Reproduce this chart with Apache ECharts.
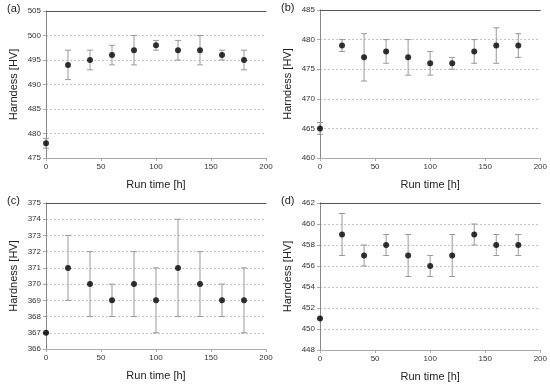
<!DOCTYPE html>
<html><head><meta charset="utf-8">
<script src="https://cdn.jsdelivr.net/npm/echarts@6/dist/echarts.min.js"></script>
<style>html,body{margin:0;padding:0;background:#fff}#c{width:550px;height:388px}</style>
</head><body><div id="c"></div>
<script>
var runTime = [0, 20, 40, 60, 80, 100, 120, 140, 160, 180];
var aValues = [478, 494, 495, 496, 497, 498, 497, 497, 496, 495];
var aLow    = [477, 491, 493, 494, 494, 497, 495, 494, 495, 493];
var aHigh   = [479, 497, 497, 498, 500, 499, 499, 500, 497, 497];
var bValues = [465, 479, 477, 478, 477, 476, 476, 478, 479, 479];
var bLow    = [464, 478, 473, 476, 474, 474, 475, 476, 476, 477];
var bHigh   = [466, 480, 481, 480, 480, 478, 477, 480, 482, 481];
var cValues = [367, 371, 370, 369, 370, 369, 371, 370, 369, 369];
var cLow    = [367, 369, 368, 368, 368, 367, 368, 368, 368, 367];
var cHigh   = [367, 373, 372, 370, 372, 371, 374, 372, 370, 371];
var dValues = [451, 459, 457, 458, 457, 456, 457, 459, 458, 458];
var dLow    = [451, 457, 456, 457, 455, 455, 455, 458, 457, 457];
var dHigh   = [451, 461, 458, 459, 459, 457, 459, 460, 459, 459];
var panelLabels = ['(a)', '(b)', '(c)', '(d)'];
var yTitles = ['Harndess [HV]', 'Harndess [HV]', 'Hardness [HV]', 'Harndess [HV]'];
var xTitle = 'Run time [h]';
var yRanges = [[475, 505, 5], [460, 485, 5], [366, 375, 1], [448, 462, 2]];

var panels = [
  {v: aValues, lo: aLow, hi: aHigh},
  {v: bValues, lo: bLow, hi: bHigh},
  {v: cValues, lo: cLow, hi: cHigh},
  {v: dValues, lo: dLow, hi: dHigh}
];
var grids = [
  {left: 46, right: 284, top: 11, bottom: 230},
  {left: 320, right: 9, top: 10, bottom: 230},
  {left: 46, right: 284, top: 203, bottom: 39},
  {left: 320, right: 9, top: 203, bottom: 38}
];
var FONT = 'Liberation Sans, Arial, sans-serif';
var xAxes = [], yAxes = [], series = [], graphics = [];
grids.forEach(function (g, i) {
  xAxes.push({
    gridIndex: i, type: 'value', min: 0, max: 200, interval: 50,
    name: xTitle, nameLocation: 'middle', nameGap: 21,
    nameTextStyle: {fontFamily: FONT, fontSize: 11, color: '#222'},
    axisLine: {lineStyle: {color: '#aaa'}},
    axisTick: {show: true, length: 3, inside: false, lineStyle: {color: '#aaa'}},
    axisLabel: {fontFamily: FONT, fontSize: 8, color: '#333', margin: 5},
    splitLine: {show: false}
  });
  xAxes.push({
    gridIndex: i, type: 'value', min: 0, max: 200, position: 'top',
    axisLine: {show: true, lineStyle: {color: '#555'}},
    axisTick: {show: false}, axisLabel: {show: false}, splitLine: {show: false}
  });
  var r = yRanges[i];
  yAxes.push({
    gridIndex: i, type: 'value', min: r[0], max: r[1], interval: r[2],
    name: yTitles[i], nameLocation: 'middle', nameGap: 27,
    nameTextStyle: {fontFamily: FONT, fontSize: 11, color: '#222'},
    axisLine: {show: true, lineStyle: {color: '#aaa'}},
    axisTick: {show: true, length: 3, lineStyle: {color: '#aaa'}},
    axisLabel: {fontFamily: FONT, fontSize: 8, color: '#333', margin: 5},
    splitLine: {show: true, lineStyle: {color: '#c4c4c4', type: [2, 2], width: 1}}
  });
  yAxes.push({
    gridIndex: i, type: 'value', min: r[0], max: r[1], position: 'right',
    axisLine: {show: true, lineStyle: {color: '#888'}},
    axisTick: {show: false}, axisLabel: {show: false}, splitLine: {show: false}
  });
  var p = panels[i];
  var errData = runTime.map(function (x, k) { return [x, p.lo[k], p.hi[k]]; });
  series.push({
    type: 'custom', xAxisIndex: 2 * i, yAxisIndex: 2 * i, z: 2,
    data: errData, silent: true,
    renderItem: function (params, api) {
      var x = api.value(0);
      var lo = api.coord([x, api.value(1)]);
      var hi = api.coord([x, api.value(2)]);
      var w = 3;
      var st = {stroke: '#999', lineWidth: 1, fill: null};
      return {type: 'group', children: [
        {type: 'line', shape: {x1: lo[0], y1: lo[1], x2: hi[0], y2: hi[1]}, style: st},
        {type: 'line', shape: {x1: lo[0] - w, y1: lo[1], x2: lo[0] + w, y2: lo[1]}, style: st},
        {type: 'line', shape: {x1: hi[0] - w, y1: hi[1], x2: hi[0] + w, y2: hi[1]}, style: st}
      ]};
    }
  });
  series.push({
    type: 'scatter', xAxisIndex: 2 * i, yAxisIndex: 2 * i, z: 3,
    symbol: 'circle', symbolSize: 6,
    itemStyle: {color: '#000'},
    data: runTime.map(function (x, k) { return [x, p.v[k]]; })
  });
  graphics.push({
    type: 'text', left: g.left - 39, top: g.top - 8,
    style: {text: panelLabels[i], font: '11px ' + FONT, fill: '#222'}
  });
});

var chart = echarts.init(document.getElementById('c'), null, {renderer: 'canvas'});
chart.setOption({
  animation: false,
  backgroundColor: '#fff',
  grid: grids,
  xAxis: xAxes,
  yAxis: yAxes,
  series: series,
  graphic: graphics
});
</script></body></html>
